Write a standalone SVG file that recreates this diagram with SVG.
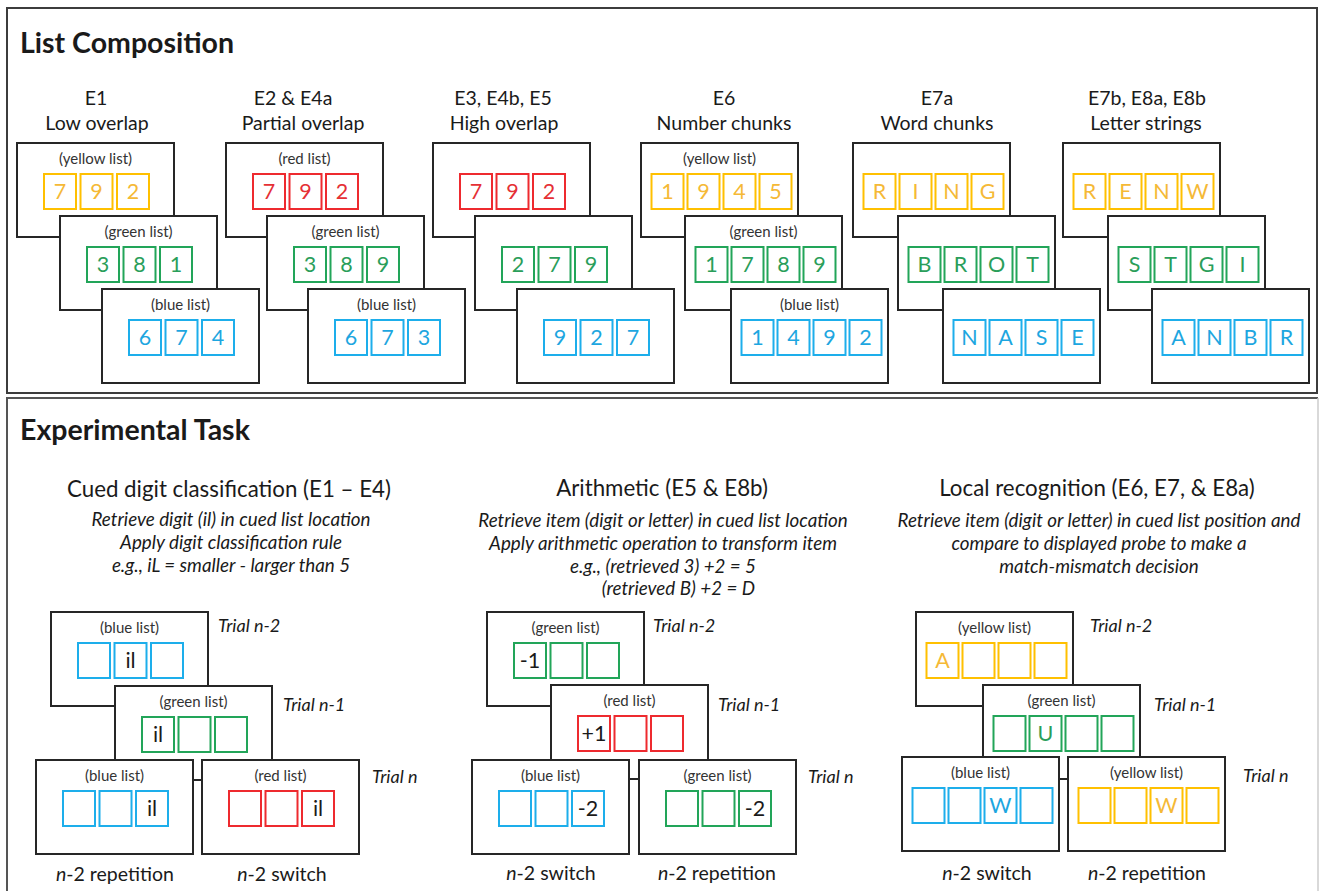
<svg xmlns="http://www.w3.org/2000/svg" width="1319" height="891" viewBox="0 0 1319 891">
<style>
.pn{fill:none;stroke:#3c3c3c;stroke-width:2}
.bx{fill:#fff;stroke:#262626;stroke-width:2}
.y{fill:none;stroke:#FFC000;stroke-width:2}
.r{fill:none;stroke:#EE2A2F;stroke-width:2}
.g{fill:none;stroke:#22A559;stroke-width:2}
.b{fill:none;stroke:#1DAEEB;stroke-width:2}
text{font-family:Lato,"Liberation Sans",sans-serif;fill:#1a1a1a}
.tt{font-size:28.5px;font-weight:bold}
.hd{font-size:19.5px;text-anchor:middle}
.sh{font-size:22.3px;text-anchor:middle}
.it{font-size:18.8px;font-style:italic;text-anchor:middle}
.lb{font-size:15px;text-anchor:middle;fill:#333}
.d{font-size:21.5px;text-anchor:middle}
.ty{fill:#F5B936}
.tr2{fill:#E53035}
.tg{fill:#2A9E5A}
.tb{fill:#1DA6E0}
.tk{fill:#1a1a1a}
.tr{font-size:18px;font-style:italic}
.bt{font-size:19.5px;text-anchor:middle}
.nt{font-style:italic}
</style>
<rect class="pn" x="7" y="8" width="1310" height="385"/>
<path d="M7,893 V398 H1318" fill="none" stroke="#555" stroke-width="2"/>
<path d="M1318,398 V891" fill="none" stroke="#ccc" stroke-width="1.5"/>
<text class="tt" x="20" y="53">List Composition</text>
<text class="tt" x="20" y="440">Experimental Task</text>

<g id="headings-top">
<text class="hd" x="96" y="105">E1</text><text class="hd" x="97" y="130">Low overlap</text>
<text class="hd" x="293" y="105">E2 &amp; E4a</text><text class="hd" x="303" y="130">Partial overlap</text>
<text class="hd" x="503" y="105">E3, E4b, E5</text><text class="hd" x="504" y="130">High overlap</text>
<text class="hd" x="724" y="105">E6</text><text class="hd" x="724" y="130">Number chunks</text>
<text class="hd" x="937" y="105">E7a</text><text class="hd" x="937" y="130">Word chunks</text>
<text class="hd" x="1147" y="105">E7b, E8a, E8b</text><text class="hd" x="1146" y="130">Letter strings</text>
</g>

<!-- Column 1 -->
<g id="c1-yellow">
<rect class="bx" x="17" y="143" width="157" height="94"/>
<text class="lb" x="95.5" y="164">(yellow list)</text>
<rect class="y" x="44" y="174" width="32" height="35"/><rect class="y" x="80.5" y="174" width="32" height="35"/><rect class="y" x="117" y="174" width="32" height="35"/>
<text class="d ty" x="60" y="199">7</text><text class="d ty" x="96.5" y="199">9</text><text class="d ty" x="133" y="199">2</text>
</g>
<g id="c1-green">
<rect class="bx" x="60" y="216" width="157" height="94"/>
<text class="lb" x="138.5" y="237">(green list)</text>
<rect class="g" x="87" y="247" width="32" height="35"/><rect class="g" x="123.5" y="247" width="32" height="35"/><rect class="g" x="160" y="247" width="32" height="35"/>
<text class="d tg" x="103" y="272">3</text><text class="d tg" x="139.5" y="272">8</text><text class="d tg" x="176" y="272">1</text>
</g>
<g id="c1-blue">
<rect class="bx" x="102" y="289" width="157" height="94"/>
<text class="lb" x="180.5" y="310">(blue list)</text>
<rect class="b" x="129" y="320" width="32" height="35"/><rect class="b" x="165.5" y="320" width="32" height="35"/><rect class="b" x="202" y="320" width="32" height="35"/>
<text class="d tb" x="145" y="345">6</text><text class="d tb" x="181.5" y="345">7</text><text class="d tb" x="218" y="345">4</text>
</g>

<!-- Column 2 -->
<g id="c2-red">
<rect class="bx" x="226" y="143" width="157" height="94"/>
<text class="lb" x="304.5" y="164">(red list)</text>
<rect class="r" x="253" y="174" width="32" height="35"/><rect class="r" x="289.5" y="174" width="32" height="35"/><rect class="r" x="326" y="174" width="32" height="35"/>
<text class="d tr2" x="269" y="199">7</text><text class="d tr2" x="305.5" y="199">9</text><text class="d tr2" x="342" y="199">2</text>
</g>
<g id="c2-green">
<rect class="bx" x="267" y="216" width="157" height="94"/>
<text class="lb" x="345.5" y="237">(green list)</text>
<rect class="g" x="294" y="247" width="32" height="35"/><rect class="g" x="330.5" y="247" width="32" height="35"/><rect class="g" x="367" y="247" width="32" height="35"/>
<text class="d tg" x="310" y="272">3</text><text class="d tg" x="346.5" y="272">8</text><text class="d tg" x="383" y="272">9</text>
</g>
<g id="c2-blue">
<rect class="bx" x="308" y="289" width="157" height="94"/>
<text class="lb" x="386.5" y="310">(blue list)</text>
<rect class="b" x="335" y="320" width="32" height="35"/><rect class="b" x="371.5" y="320" width="32" height="35"/><rect class="b" x="408" y="320" width="32" height="35"/>
<text class="d tb" x="351" y="345">6</text><text class="d tb" x="387.5" y="345">7</text><text class="d tb" x="424" y="345">3</text>
</g>

<!-- Column 3 -->
<g id="c3-red">
<rect class="bx" x="433" y="143" width="157" height="94"/>
<rect class="r" x="460" y="174" width="32" height="35"/><rect class="r" x="496.5" y="174" width="32" height="35"/><rect class="r" x="533" y="174" width="32" height="35"/>
<text class="d tr2" x="476" y="199">7</text><text class="d tr2" x="512.5" y="199">9</text><text class="d tr2" x="549" y="199">2</text>
</g>
<g id="c3-green">
<rect class="bx" x="475" y="216" width="157" height="94"/>
<rect class="g" x="502" y="247" width="32" height="35"/><rect class="g" x="538.5" y="247" width="32" height="35"/><rect class="g" x="575" y="247" width="32" height="35"/>
<text class="d tg" x="518" y="272">2</text><text class="d tg" x="554.5" y="272">7</text><text class="d tg" x="591" y="272">9</text>
</g>
<g id="c3-blue">
<rect class="bx" x="517" y="289" width="157" height="94"/>
<rect class="b" x="544" y="320" width="32" height="35"/><rect class="b" x="580.5" y="320" width="32" height="35"/><rect class="b" x="617" y="320" width="32" height="35"/>
<text class="d tb" x="560" y="345">9</text><text class="d tb" x="596.5" y="345">2</text><text class="d tb" x="633" y="345">7</text>
</g>

<!-- Column 4 -->
<g id="c4-yellow">
<rect class="bx" x="641" y="143" width="157" height="94"/>
<text class="lb" x="719.5" y="164">(yellow list)</text>
<rect class="y" x="651.5" y="174" width="32" height="35"/><rect class="y" x="687.5" y="174" width="32" height="35"/><rect class="y" x="723.5" y="174" width="32" height="35"/><rect class="y" x="759.5" y="174" width="32" height="35"/>
<text class="d ty" x="667.5" y="199">1</text><text class="d ty" x="703.5" y="199">9</text><text class="d ty" x="739.5" y="199">4</text><text class="d ty" x="775.5" y="199">5</text>
</g>
<g id="c4-green">
<rect class="bx" x="685" y="216" width="157" height="94"/>
<text class="lb" x="763.5" y="237">(green list)</text>
<rect class="g" x="695.5" y="247" width="32" height="35"/><rect class="g" x="731.5" y="247" width="32" height="35"/><rect class="g" x="767.5" y="247" width="32" height="35"/><rect class="g" x="803.5" y="247" width="32" height="35"/>
<text class="d tg" x="711.5" y="272">1</text><text class="d tg" x="747.5" y="272">7</text><text class="d tg" x="783.5" y="272">8</text><text class="d tg" x="819.5" y="272">9</text>
</g>
<g id="c4-blue">
<rect class="bx" x="731" y="289" width="157" height="94"/>
<text class="lb" x="809.5" y="310">(blue list)</text>
<rect class="b" x="741.5" y="320" width="32" height="35"/><rect class="b" x="777.5" y="320" width="32" height="35"/><rect class="b" x="813.5" y="320" width="32" height="35"/><rect class="b" x="849.5" y="320" width="32" height="35"/>
<text class="d tb" x="757.5" y="345">1</text><text class="d tb" x="793.5" y="345">4</text><text class="d tb" x="829.5" y="345">9</text><text class="d tb" x="865.5" y="345">2</text>
</g>

<!-- Column 5 -->
<g id="c5-yellow">
<rect class="bx" x="853" y="143" width="157" height="94"/>
<rect class="y" x="863.5" y="174" width="32" height="35"/><rect class="y" x="899.5" y="174" width="32" height="35"/><rect class="y" x="935.5" y="174" width="32" height="35"/><rect class="y" x="971.5" y="174" width="32" height="35"/>
<text class="d ty" x="879.5" y="199">R</text><text class="d ty" x="915.5" y="199">I</text><text class="d ty" x="951.5" y="199">N</text><text class="d ty" x="987.5" y="199">G</text>
</g>
<g id="c5-green">
<rect class="bx" x="898" y="216" width="157" height="94"/>
<rect class="g" x="908.5" y="247" width="32" height="35"/><rect class="g" x="944.5" y="247" width="32" height="35"/><rect class="g" x="980.5" y="247" width="32" height="35"/><rect class="g" x="1016.5" y="247" width="32" height="35"/>
<text class="d tg" x="924.5" y="272">B</text><text class="d tg" x="960.5" y="272">R</text><text class="d tg" x="996.5" y="272">O</text><text class="d tg" x="1032.5" y="272">T</text>
</g>
<g id="c5-blue">
<rect class="bx" x="943" y="289" width="157" height="94"/>
<rect class="b" x="953.5" y="320" width="32" height="35"/><rect class="b" x="989.5" y="320" width="32" height="35"/><rect class="b" x="1025.5" y="320" width="32" height="35"/><rect class="b" x="1061.5" y="320" width="32" height="35"/>
<text class="d tb" x="969.5" y="345">N</text><text class="d tb" x="1005.5" y="345">A</text><text class="d tb" x="1041.5" y="345">S</text><text class="d tb" x="1077.5" y="345">E</text>
</g>

<!-- Column 6 -->
<g id="c6-yellow">
<rect class="bx" x="1063" y="143" width="157" height="94"/>
<rect class="y" x="1073.5" y="174" width="32" height="35"/><rect class="y" x="1109.5" y="174" width="32" height="35"/><rect class="y" x="1145.5" y="174" width="32" height="35"/><rect class="y" x="1181.5" y="174" width="32" height="35"/>
<text class="d ty" x="1089.5" y="199">R</text><text class="d ty" x="1125.5" y="199">E</text><text class="d ty" x="1161.5" y="199">N</text><text class="d ty" x="1197.5" y="199">W</text>
</g>
<g id="c6-green">
<rect class="bx" x="1108" y="216" width="157" height="94"/>
<rect class="g" x="1118.5" y="247" width="32" height="35"/><rect class="g" x="1154.5" y="247" width="32" height="35"/><rect class="g" x="1190.5" y="247" width="32" height="35"/><rect class="g" x="1226.5" y="247" width="32" height="35"/>
<text class="d tg" x="1134.5" y="272">S</text><text class="d tg" x="1170.5" y="272">T</text><text class="d tg" x="1206.5" y="272">G</text><text class="d tg" x="1242.5" y="272">I</text>
</g>
<g id="c6-blue">
<rect class="bx" x="1152" y="289" width="157" height="94"/>
<rect class="b" x="1162.5" y="320" width="32" height="35"/><rect class="b" x="1198.5" y="320" width="32" height="35"/><rect class="b" x="1234.5" y="320" width="32" height="35"/><rect class="b" x="1270.5" y="320" width="32" height="35"/>
<text class="d tb" x="1178.5" y="345">A</text><text class="d tb" x="1214.5" y="345">N</text><text class="d tb" x="1250.5" y="345">B</text><text class="d tb" x="1286.5" y="345">R</text>
</g>

<!-- Task descriptions -->
<g id="task-text">
<text class="sh" x="229" y="497">Cued digit classification (E1 – E4)</text>
<text class="it" x="231" y="526">Retrieve digit (il) in cued list location</text>
<text class="it" x="231" y="549">Apply digit classification rule</text>
<text class="it" x="231" y="572">e.g., iL = smaller - larger than 5</text>
<text class="sh" x="662" y="496">Arithmetic (E5 &amp; E8b)</text>
<text class="it" x="663" y="527">Retrieve item (digit or letter) in cued list location</text>
<text class="it" x="663" y="550">Apply arithmetic operation to transform item</text>
<text class="it" x="663" y="573">e.g., (retrieved 3) +2 = 5</text>
<text class="it" x="755" y="595" style="text-anchor:end">(retrieved B) +2 = D</text>
<text class="sh" x="1097" y="496">Local recognition (E6, E7, &amp; E8a)</text>
<text class="it" x="1099" y="527">Retrieve item (digit or letter) in cued list position and</text>
<text class="it" x="1099" y="550">compare to displayed probe to make a</text>
<text class="it" x="1099" y="573">match-mismatch decision</text>
</g>

<!-- Cued digit classification -->
<g id="cd-n2">
<rect class="bx" x="51" y="612" width="157" height="94"/>
<text class="lb" x="129.5" y="633">(blue list)</text>
<rect class="b" x="78" y="643" width="32" height="35"/><rect class="b" x="114.5" y="643" width="32" height="35"/><rect class="b" x="151" y="643" width="32" height="35"/>
<text class="d tk" x="130.5" y="668">il</text>
</g>
<g id="cd-n1">
<rect class="bx" x="115" y="686" width="157" height="94"/>
<text class="lb" x="193.5" y="707">(green list)</text>
<rect class="g" x="142" y="717" width="32" height="35"/><rect class="g" x="178.5" y="717" width="32" height="35"/><rect class="g" x="215" y="717" width="32" height="35"/>
<text class="d tk" x="158" y="742">il</text>
</g>
<g id="cd-n-rep">
<rect class="bx" x="36" y="760" width="157" height="94"/>
<text class="lb" x="114.5" y="781">(blue list)</text>
<rect class="b" x="63" y="791" width="32" height="35"/><rect class="b" x="99.5" y="791" width="32" height="35"/><rect class="b" x="136" y="791" width="32" height="35"/>
<text class="d tk" x="152" y="816">il</text>
</g>
<g id="cd-n-sw">
<rect class="bx" x="202" y="760" width="157" height="94"/>
<text class="lb" x="280.5" y="781">(red list)</text>
<rect class="r" x="229" y="791" width="32" height="35"/><rect class="r" x="265.5" y="791" width="32" height="35"/><rect class="r" x="302" y="791" width="32" height="35"/>
<text class="d tk" x="318" y="816">il</text>
</g>
<g id="cd-labels">
<text class="tr" x="218" y="632">Trial n-2</text>
<text class="tr" x="283" y="711">Trial n-1</text>
<text class="tr" x="372" y="783">Trial n</text>
<text class="bt" x="115" y="881"><tspan class="nt">n</tspan>-2 repetition</text>
<text class="bt" x="282" y="881"><tspan class="nt">n</tspan>-2 switch</text>
</g>

<!-- Arithmetic -->
<g id="ar-n2">
<rect class="bx" x="487" y="612" width="157" height="94"/>
<text class="lb" x="565.5" y="633">(green list)</text>
<rect class="g" x="514" y="643" width="32" height="35"/><rect class="g" x="550.5" y="643" width="32" height="35"/><rect class="g" x="587" y="643" width="32" height="35"/>
<text class="d tk" x="530" y="668">-1</text>
</g>
<g id="ar-n1">
<rect class="bx" x="551" y="685" width="157" height="94"/>
<text class="lb" x="629.5" y="706">(red list)</text>
<rect class="r" x="578" y="716" width="32" height="35"/><rect class="r" x="614.5" y="716" width="32" height="35"/><rect class="r" x="651" y="716" width="32" height="35"/>
<text class="d tk" x="594" y="741">+1</text>
</g>
<g id="ar-n-sw">
<rect class="bx" x="472" y="760" width="157" height="94"/>
<text class="lb" x="550.5" y="781">(blue list)</text>
<rect class="b" x="499" y="791" width="32" height="35"/><rect class="b" x="535.5" y="791" width="32" height="35"/><rect class="b" x="572" y="791" width="32" height="35"/>
<text class="d tk" x="588" y="816">-2</text>
</g>
<g id="ar-n-rep">
<rect class="bx" x="639" y="760" width="157" height="94"/>
<text class="lb" x="717.5" y="781">(green list)</text>
<rect class="g" x="666" y="791" width="32" height="35"/><rect class="g" x="702.5" y="791" width="32" height="35"/><rect class="g" x="739" y="791" width="32" height="35"/>
<text class="d tk" x="755" y="816">-2</text>
</g>
<g id="ar-labels">
<text class="tr" x="653" y="632">Trial n-2</text>
<text class="tr" x="718" y="711">Trial n-1</text>
<text class="tr" x="808" y="783">Trial n</text>
<text class="bt" x="551" y="880"><tspan class="nt">n</tspan>-2 switch</text>
<text class="bt" x="717" y="880"><tspan class="nt">n</tspan>-2 repetition</text>
</g>

<!-- Local recognition -->
<g id="lr-n2">
<rect class="bx" x="916" y="612" width="157" height="94"/>
<text class="lb" x="994.5" y="633">(yellow list)</text>
<rect class="y" x="926.5" y="643" width="32" height="35"/><rect class="y" x="962.5" y="643" width="32" height="35"/><rect class="y" x="998.5" y="643" width="32" height="35"/><rect class="y" x="1034.5" y="643" width="32" height="35"/>
<text class="d ty" x="942.5" y="668">A</text>
</g>
<g id="lr-n1">
<rect class="bx" x="983" y="685" width="157" height="94"/>
<text class="lb" x="1061.5" y="706">(green list)</text>
<rect class="g" x="993.5" y="716" width="32" height="35"/><rect class="g" x="1029.5" y="716" width="32" height="35"/><rect class="g" x="1065.5" y="716" width="32" height="35"/><rect class="g" x="1101.5" y="716" width="32" height="35"/>
<text class="d tg" x="1045.5" y="741">U</text>
</g>
<g id="lr-n-sw">
<rect class="bx" x="902" y="757" width="157" height="94"/>
<text class="lb" x="980.5" y="778">(blue list)</text>
<rect class="b" x="912.5" y="788" width="32" height="35"/><rect class="b" x="948.5" y="788" width="32" height="35"/><rect class="b" x="984.5" y="788" width="32" height="35"/><rect class="b" x="1020.5" y="788" width="32" height="35"/>
<text class="d tb" x="1000.5" y="813">W</text>
</g>
<g id="lr-n-rep">
<rect class="bx" x="1068" y="757" width="157" height="94"/>
<text class="lb" x="1146.5" y="778">(yellow list)</text>
<rect class="y" x="1078.5" y="788" width="32" height="35"/><rect class="y" x="1114.5" y="788" width="32" height="35"/><rect class="y" x="1150.5" y="788" width="32" height="35"/><rect class="y" x="1186.5" y="788" width="32" height="35"/>
<text class="d ty" x="1166.5" y="813">W</text>
</g>
<g id="lr-labels">
<text class="tr" x="1090" y="632">Trial n-2</text>
<text class="tr" x="1154" y="711">Trial n-1</text>
<text class="tr" x="1243" y="782">Trial n</text>
<text class="bt" x="987" y="880"><tspan class="nt">n</tspan>-2 switch</text>
<text class="bt" x="1147" y="880"><tspan class="nt">n</tspan>-2 repetition</text>
</g>
<g id="connectors"/>
</svg>
